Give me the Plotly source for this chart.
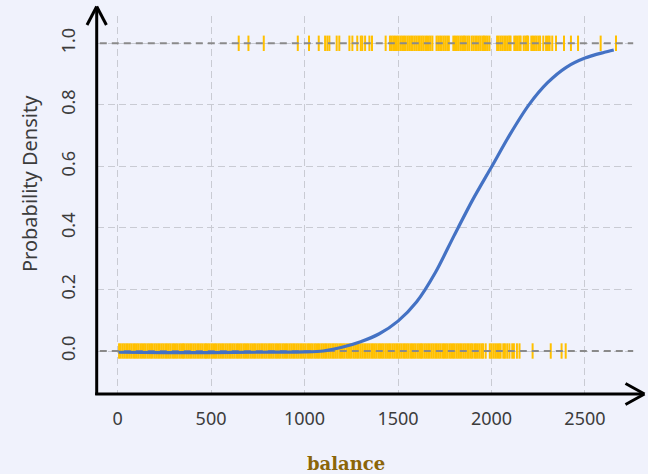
import plotly.graph_objects as go

# ---------------- data ----------------
balance_default_no = [
    8, 17, 27, 36, 46, 55, 65, 74, 84, 93,
    103, 112, 122, 131, 141, 150, 160, 169, 179, 188, 198,
    207, 217, 226, 236, 245, 255, 264, 274, 283, 293,
    302, 312, 321, 331, 340, 350, 359, 369, 378, 388, 397,
    407, 416, 426, 435, 445, 454, 464, 473, 483, 492,
    502, 511, 521, 530, 540, 549, 559, 568, 578, 587, 597,
    606, 616, 625, 635, 644, 654, 663, 673, 682, 692,
    701, 711, 720, 730, 739, 749, 758, 768, 777, 787, 796,
    806, 815, 825, 834, 844, 853, 863, 872, 882, 891,
    901, 910, 920, 929, 939, 948, 958, 967, 977, 986, 996,
    1005, 1015, 1024, 1034, 1043, 1053, 1062, 1072, 1081, 1091,
    1100, 1110, 1119, 1129, 1138, 1148, 1157, 1167, 1176, 1186, 1195,
    1205, 1214, 1224, 1233, 1243, 1252, 1262, 1271, 1281, 1290,
    1300, 1309, 1319, 1328, 1338, 1347, 1357, 1366, 1376, 1385, 1395,
    1404, 1414, 1423, 1433, 1442, 1452, 1461, 1471, 1480, 1490,
    1499, 1509, 1518, 1528, 1537, 1547, 1556, 1566, 1575, 1585, 1594,
    1604, 1613, 1623, 1632, 1642, 1651, 1661, 1670, 1680, 1689, 1699,
    1708, 1718, 1727, 1737, 1746, 1756, 1765, 1775, 1784, 1794,
    1803, 1813, 1822, 1832, 1841, 1851, 1860, 1870, 1879, 1889, 1897,
    1908, 1917, 1927, 1937, 1947, 1955, 1969,
    1991, 2000, 2010, 2020, 2030, 2040, 2049,
    2063, 2072, 2084, 2096, 2111, 2120, 2136, 2150,
    2220, 2317, 2375, 2397,
]

balance_default_yes = [
    648, 700, 782, 964, 1024, 1076, 1110, 1122, 1133, 1172, 1186,
    1240, 1256, 1282, 1301, 1309, 1324, 1347, 1361, 1434, 1457, 1466, 1475,
    1484, 1494, 1503, 1513, 1522, 1532, 1541, 1551, 1560, 1570, 1579,
    1589, 1598, 1608, 1617, 1627, 1636, 1646, 1655, 1665, 1674, 1684,
    1706, 1715, 1725, 1734, 1744, 1753, 1763, 1772,
    1796, 1805, 1815, 1824, 1834, 1843, 1853, 1862, 1872, 1881,
    1894, 1903, 1913, 1922, 1932, 1941, 1951, 1960, 1970, 1979, 1989,
    2030, 2039, 2049, 2058, 2068, 2077, 2087, 2096, 2102,
    2122, 2131, 2141, 2150, 2156, 2172, 2181, 2190, 2196,
    2213, 2222, 2232, 2241, 2251, 2260,
    2277, 2292, 2302, 2311, 2325, 2345, 2388, 2425, 2463, 2584, 2666,
]

curve_x = [5, 250, 500, 750, 1000, 1100, 1200, 1300, 1400, 1500, 1600, 1700,
           1800, 1900, 2000, 2100, 2200, 2300, 2400, 2500, 2600, 2654]
curve_y = [-0.004, -0.005, -0.005, -0.004, -0.003, 0.000, 0.012, 0.030, 0.056,
           0.097, 0.160, 0.255, 0.375, 0.492, 0.598, 0.705, 0.800, 0.872,
           0.922, 0.952, 0.970, 0.978]

x_ticks = [0, 500, 1000, 1500, 2000, 2500]
y_ticks = [0.0, 0.2, 0.4, 0.6, 0.8, 1.0]
ref_levels = [0, 1]

# ---------------- layout constants ----------------
W, H = 648, 474
L, R, T, B = 97, 636, 16, 393
X_RANGE = [-110, 2773]
Y_RANGE = [-0.1365, 1.0887]
BG = "#F0F2FC"
RUG = "#FFC000"
BLUE = "#4472C4"
TXT = "#3C3C3C"
SANS = "Noto Sans"


def px(xp):
    return (xp - L) / (R - L)


def py(yp):
    return (B - yp) / (B - T)


fig = go.Figure()

rug_marker = dict(symbol="line-ns", size=11, line=dict(color=RUG, width=2))
fig.add_trace(go.Scatter(x=balance_default_no, y=[0] * len(balance_default_no),
                         mode="markers", marker=rug_marker, hoverinfo="x"))
fig.add_trace(go.Scatter(x=balance_default_yes, y=[1] * len(balance_default_yes),
                         mode="markers", marker=rug_marker, hoverinfo="x"))

for lv in ref_levels:
    fig.add_trace(go.Scatter(x=[X_RANGE[0] + 15, X_RANGE[1] - 15], y=[lv, lv],
                             mode="lines", hoverinfo="skip",
                             line=dict(color="#8A8A8A", width=2, dash="7px,5px")))

fig.add_trace(go.Scatter(x=curve_x, y=curve_y, mode="lines",
                         line=dict(color=BLUE, width=3.2, shape="spline",
                                   smoothing=0.8)))

axis_common = dict(showline=False, zeroline=False, showgrid=True,
                   gridcolor="#C9CBD3", gridwidth=1, griddash="7px,4px",
                   ticks="outside", tickcolor="rgba(0,0,0,0)",
                   tickfont=dict(family=SANS, size=18, color=TXT))

fig.update_layout(
    width=W, height=H,
    margin=dict(l=L, r=W - R, t=T, b=H - B),
    paper_bgcolor=BG, plot_bgcolor=BG,
    showlegend=False,
    xaxis=dict(range=X_RANGE, tickvals=x_ticks, ticklen=9, **axis_common),
    yaxis=dict(range=Y_RANGE, tickvals=y_ticks, tickformat=".1f", tickangle=-90,
               ticklen=14, **axis_common),
)

# axis lines with open arrowheads
axk = dict(type="line", xref="paper", yref="paper", layer="above",
           line=dict(color="black", width=3))
shapes = [
    dict(x0=px(96.7), y0=py(395), x1=px(96.7), y1=py(7), **axk),
    dict(x0=px(87), y0=py(25), x1=px(96.7), y1=py(6.5), **axk),
    dict(x0=px(106.4), y0=py(25), x1=px(96.7), y1=py(6.5), **axk),
    dict(x0=px(95.2), y0=py(394), x1=px(644), y1=py(394), **axk),
    dict(x0=px(625.5), y0=py(383.5), x1=px(644.5), y1=py(394), **axk),
    dict(x0=px(625.5), y0=py(404.5), x1=px(644.5), y1=py(394), **axk),
]
fig.update_layout(shapes=shapes)

fig.add_annotation(text="<b>balance</b>", xref="paper", yref="paper",
                   x=px(346), y=py(463), showarrow=False,
                   xanchor="center", yanchor="middle",
                   font=dict(family="DejaVu Serif", size=18, color="#8B6508"))
fig.add_annotation(text="Probability Density", xref="paper", yref="paper",
                   x=px(30), y=py(184), showarrow=False, textangle=-90,
                   xanchor="center", yanchor="middle",
                   font=dict(family=SANS, size=20, color=TXT))

fig.write_html("out.html",
               config={"displayModeBar": False},
               post_script="document.body.style.margin='0';"
                           "document.body.style.overflow='hidden';")
